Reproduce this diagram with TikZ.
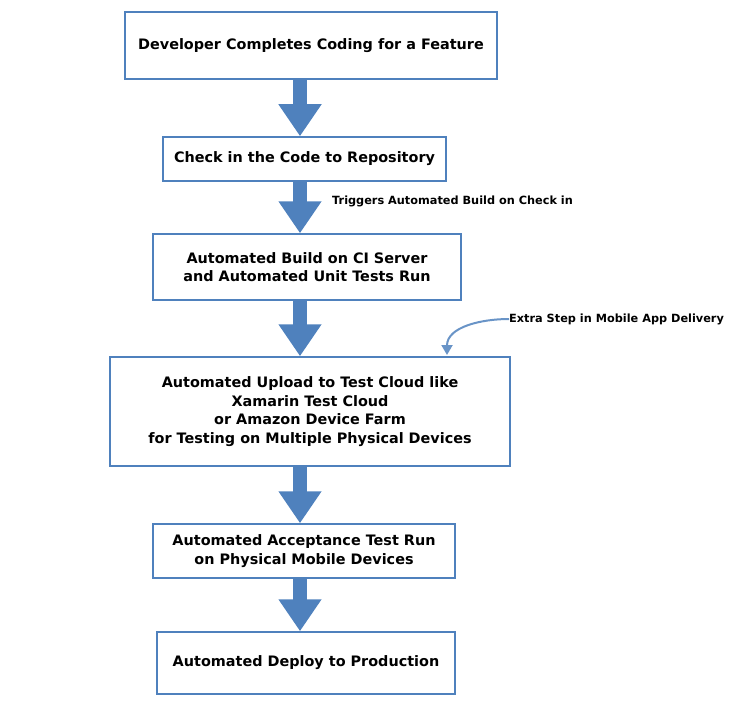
\documentclass[tikz,border=0pt]{standalone}
\usepackage{fontspec}
\setmainfont{DejaVu Sans}
\usetikzlibrary{arrows.meta}
\definecolor{stepblue}{HTML}{4F81BD}
\begin{document}
\begin{tikzpicture}[x=1pt,y=-1pt,
  stepbox/.style={draw=stepblue,line width=1.5pt,align=center,inner sep=0pt,
    font=\fontsize{14.4}{18.7}\selectfont\bfseries},
  flow/.style={draw=stepblue,line width=14pt,-{Triangle[width=41pt,length=32pt]}},
  note/.style={anchor=west,inner sep=0pt,font=\fontsize{11.3}{13}\selectfont\bfseries},
  hint/.style={draw=stepblue!85,line width=2pt,-{Triangle[width=11pt,length=10pt]}}]
\useasboundingbox (0,0) rectangle (735,722);
\coordinate (ax) at (300,0);
% the six steps
\node[stepbox,minimum width=372pt,minimum height=67pt] (dev) at (311,45.5) {Developer Completes Coding for a Feature};
\node[stepbox,minimum width=283pt,minimum height=44pt] (checkin) at (304.5,159) {Check in the Code to Repository};
\node[stepbox,minimum width=308pt,minimum height=66pt] (build) at (307,267) {Automated Build on CI Server\\and Automated Unit Tests Run};
\node[stepbox,minimum width=400pt,minimum height=109pt] (upload) at (310,411.5) {Automated Upload to Test Cloud like\\Xamarin Test Cloud\\or Amazon Device Farm\\for Testing on Multiple Physical Devices};
\node[stepbox,minimum width=302pt,minimum height=54pt] (accept) at (304,551) {Automated Acceptance Test Run\\on Physical Mobile Devices};
\node[stepbox,minimum width=298pt,minimum height=62pt] (deploy) at (306,663) {Automated Deploy to Production};
% block arrows
\draw[flow] (dev.south -| ax) -- (checkin.north -| ax);
\draw[flow] (checkin.south -| ax) -- (build.north -| ax);
\draw[flow] (build.south -| ax) -- (upload.north -| ax);
\draw[flow] (upload.south -| ax) -- (accept.north -| ax);
\draw[flow] (accept.south -| ax) -- (deploy.north -| ax);
% notes
\node[note] (trig) at (332,201) {Triggers Automated Build on Check in};
\node[note] (extra) at (509,319) {Extra Step in Mobile App Delivery};
\coordinate (xtip) at (447,355);
\draw[hint] (extra.west) to[out=180,in=90] (xtip);
\end{tikzpicture}
\end{document}
